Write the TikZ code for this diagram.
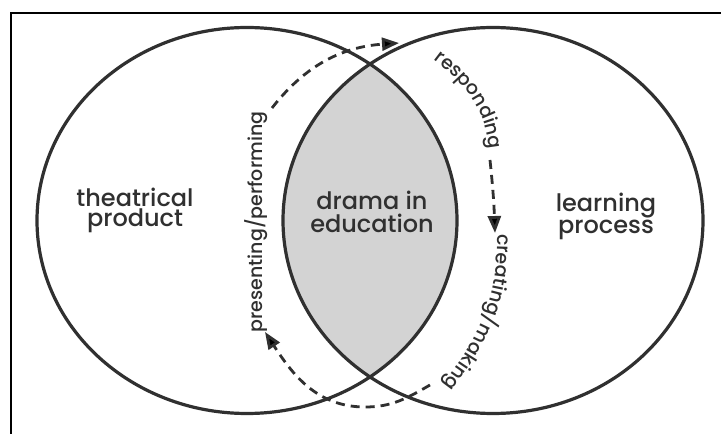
\documentclass[tikz,border=0pt]{standalone}
\usepackage{fontspec}
\setmainfont{Poppins}[UprightFont=* Medium]
\usetikzlibrary{arrows.meta,decorations.text}
\definecolor{ink}{RGB}{48,48,48}
\definecolor{lensgray}{RGB}{211,211,211}
\newcommand\arcfont{\fontsize{19}{21}\selectfont}
\tikzset{
  ring/.style={draw=ink, line width=3.2pt},
  flow/.style={draw=ink, line width=2.8pt, dash pattern=on 9pt off 6pt,
    -{Triangle[length=17pt,width=13pt]}},
  biglabel/.style={text=ink, font=\fontsize{24}{21}\selectfont, inner sep=0pt},
  arclabel/.style={text=ink, font=\arcfont, inner sep=0pt},
  pathtext/.style={decorate, decoration={text along path, text align=center,
    text color=ink, text={|\arcfont|#1}}},
}
\begin{document}
\begin{tikzpicture}[x=1pt,y=1pt]
\useasboundingbox (0,0) rectangle (721,434);
\fill[white] (0,0) rectangle (721,434);
% frame lines
\draw[line width=2.4pt] (11,0) -- (11,421) -- (721,421);

% shaded overlap of the two sets
\begin{scope}
  \clip (247,213.5) ellipse [x radius=210, y radius=193];
  \fill[lensgray] (493,213.5) ellipse [x radius=210, y radius=193];
\end{scope}
\draw[ring] (247,213.5) ellipse [x radius=210, y radius=193];
\draw[ring] (493,213.5) ellipse [x radius=210, y radius=193];

% set labels
\node[biglabel, anchor=base] (theat) at (135,227) {theatrical};
\node[biglabel, anchor=base] (prod)  at (135,207) {product};
\node[biglabel, anchor=base] (drama) at (372,224) {drama in};
\node[biglabel, anchor=base] (educ)  at (372,201) {education};
\node[biglabel, anchor=base] (learn) at (606,222) {learning};
\node[biglabel, anchor=base] (proc)  at (606,200) {process};

% cycle labels
\node[arclabel, rotate=90] (present) at (256,212) {presenting/performing};
\path[pathtext=responding] (428,378) to[out=-35,in=93] (490,278);
\path[pathtext=creating/making] (497,205) to[out=-88,in=52] (440,45);

% dashed cycle arrows
\coordinate (ta) at (272,326);
\coordinate (tb) at (399,391);
\coordinate (ra) at (490,274);
\coordinate (rb) at (495,201);
\coordinate (ba) at (430,49);
\coordinate (bm) at (365,27);
\coordinate (bb) at (265,102);
\draw[flow] (ta) to[out=52,in=184] (tb);
\draw[flow] (ra) to[out=-84,in=92] (rb);
\draw[flow] (ba) to[out=210,in=0] (bm) to[out=180,in=303] (bb);
\end{tikzpicture}
\end{document}
